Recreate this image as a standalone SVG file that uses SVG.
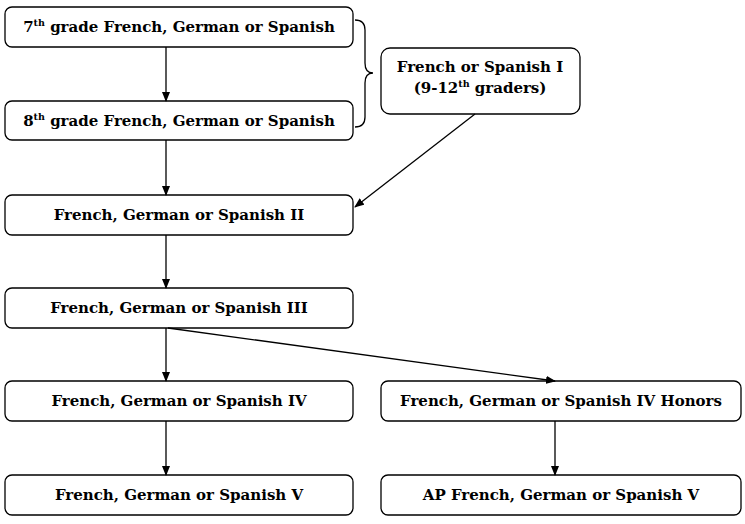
<svg xmlns="http://www.w3.org/2000/svg" width="745" height="524" viewBox="0 0 745 524">
<style>
.box{fill:#fff;stroke:#000;stroke-width:1.3}
.t{font-family:"DejaVu Serif","Liberation Serif",serif;font-weight:bold;font-size:15px;fill:#000;text-anchor:middle}
.sup{font-size:9.5px}
.c{stroke:#000;stroke-width:1.3;fill:none}
</style>
<defs>
<marker id="ah" markerWidth="10" markerHeight="8" refX="9" refY="4" orient="auto" markerUnits="userSpaceOnUse">
<path d="M0,0 L10,4 L0,8 Z" fill="#000"/>
</marker>
</defs>
<rect width="745" height="524" fill="#fff"/>
<g id="n7">
<rect class="box" x="5" y="7" width="348" height="40" rx="7"/>
<text class="t" x="179" y="32">7<tspan class="sup" dy="-6">th</tspan><tspan dy="6"> grade French, German or Spanish</tspan></text>
</g>
<g id="n8">
<rect class="box" x="5" y="101" width="348" height="39" rx="7"/>
<text class="t" x="179" y="126">8<tspan class="sup" dy="-6">th</tspan><tspan dy="6"> grade French, German or Spanish</tspan></text>
</g>
<g id="brace">
<path class="c" d="M355,20 Q365,20 365,30 L365,63 Q365,73 373,73 Q365,73 365,83 L365,117 Q365,127 355,127"/>
</g>
<g id="nI">
<rect class="box" x="381" y="48" width="199" height="66" rx="9"/>
<text class="t" x="480" y="72">French or Spanish I</text>
<text class="t" x="480" y="93">(9-12<tspan class="sup" dy="-6">th</tspan><tspan dy="6"> graders)</tspan></text>
</g>
<g id="nII">
<rect class="box" x="5" y="195" width="348" height="40" rx="7"/>
<text class="t" x="179" y="220">French, German or Spanish II</text>
</g>
<g id="nIII">
<rect class="box" x="5" y="288" width="348" height="40" rx="7"/>
<text class="t" x="179" y="313">French, German or Spanish III</text>
</g>
<g id="nIV">
<rect class="box" x="5" y="381" width="348" height="40" rx="7"/>
<text class="t" x="179" y="406">French, German or Spanish IV</text>
</g>
<g id="nIVH">
<rect class="box" x="381" y="381" width="360" height="40" rx="7"/>
<text class="t" x="561" y="406">French, German or Spanish IV Honors</text>
</g>
<g id="nV">
<rect class="box" x="5" y="475" width="348" height="40" rx="7"/>
<text class="t" x="179" y="500">French, German or Spanish V</text>
</g>
<g id="nAP">
<rect class="box" x="381" y="475" width="360" height="40" rx="7"/>
<text class="t" x="561" y="500">AP French, German or Spanish V</text>
</g>
<g id="connectors">
<line class="c" x1="166" y1="47" x2="166" y2="101" marker-end="url(#ah)"/>
<line class="c" x1="166" y1="140" x2="166" y2="195" marker-end="url(#ah)"/>
<line class="c" x1="475" y1="114" x2="355" y2="207" marker-end="url(#ah)"/>
<line class="c" x1="166" y1="235" x2="166" y2="288" marker-end="url(#ah)"/>
<line class="c" x1="166" y1="328" x2="166" y2="381" marker-end="url(#ah)"/>
<line class="c" x1="168" y1="328" x2="555" y2="381" marker-end="url(#ah)"/>
<line class="c" x1="166" y1="421" x2="166" y2="475" marker-end="url(#ah)"/>
<line class="c" x1="555" y1="421" x2="555" y2="475" marker-end="url(#ah)"/>
</g>
</svg>
